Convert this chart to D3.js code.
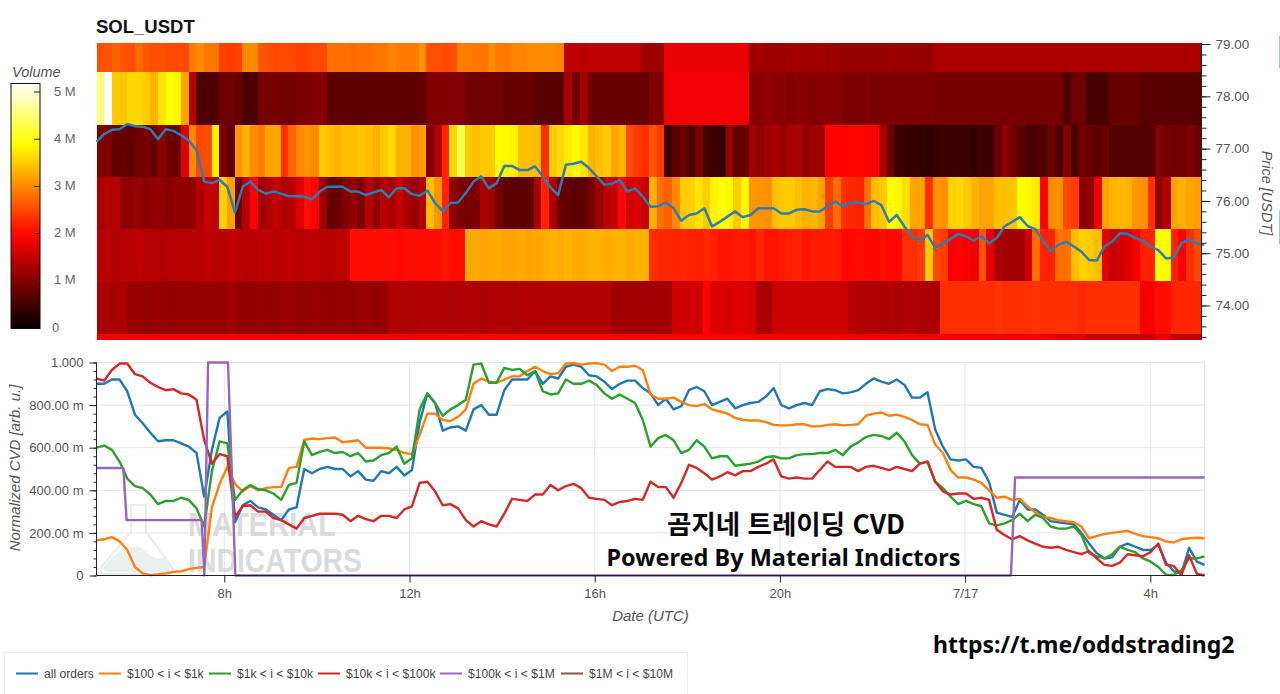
<!DOCTYPE html>
<html lang="ko">
<head>
<meta charset="utf-8">
<title>SOL_USDT CVD</title>
<script src="https://cdn.jsdelivr.net/npm/d3@7/dist/d3.min.js"></script>
<style>
  html, body { margin: 0; padding: 0; background: #fff; }
  svg { display: block; font-family: "Liberation Sans", Arial, sans-serif; }
  .axis text { fill: #555; font-size: 13px; font-family: "Liberation Sans", Arial, sans-serif; }
  .axis path, .axis line { stroke: #222; }
</style>
</head>
<body>
<svg id="chart" width="1280" height="694"></svg>
<script>
// Price bins of the volume heatmap, top edge to bottom edge (USDT)
const priceEdges = [79.02, 78.46, 77.46, 76.46, 75.46, 74.46, 73.46, 73.35];

// Traded volume per 10-minute column, in millions, one array per price bin (top to bottom)
const volumeBin0 = [
  2.55,2.6,2.7,2.6,2.55,2.75,2.6,2.55,2.55,2.5,2.5,2.5,
  2.9,3.0,2.85,2.85,2.45,2.4,2.45,3.0,3.0,2.6,2.55,2.5,
  2.5,2.5,2.45,2.45,2.5,2.5,2.8,2.8,2.8,2.75,2.8,2.8,
  2.85,2.85,2.95,2.9,2.9,2.9,3.05,2.55,2.55,2.5,2.55,2.9,
  2.9,2.85,2.85,3.0,2.9,2.85,2.95,2.95,3.0,3.0,3.0,3.0,
  2.95,1.45,1.45,1.4,1.45,1.45,1.45,1.45,1.45,1.45,1.45,1.2,
  1.2,1.2,1.8,1.8,1.8,1.8,1.8,1.8,1.8,1.8,1.8,1.8,
  1.8,1.2,1.25,1.2,1.2,1.2,1.25,1.25,1.2,1.2,1.25,1.2,
  1.2,1.15,1.15,1.15,1.15,1.15,1.15,1.2,1.15,1.15,1.15,1.15,
  1.15,1.3,1.3,1.3,1.3,1.3,1.3,1.3,1.3,1.3,1.3,1.3,
  1.3,1.3,1.3,1.3,1.3,1.3,1.3,1.3,1.3,1.3,1.3,1.3,
  1.3,1.3,1.3,1.3,1.3,1.3,1.3,1.3,1.3,1.3,1.3,1.3];
const volumeBin1 = [
  4.5,5.2,3.5,3.45,3.6,3.6,3.5,3.3,3.7,3.9,3.85,3.2,
  1.35,.6,.6,.6,.85,.85,.8,.55,.55,.9,.9,.9,
  .88,.88,.95,.95,1.0,1.0,.72,.72,.72,.7,.72,.72,
  .72,.72,.72,.72,.7,.72,.75,1.0,1.0,1.0,1.0,1.0,
  .86,.86,.86,.86,.86,.78,.78,.78,.78,.68,.68,.68,
  .68,1.25,.86,1.25,.8,.8,.8,.8,.8,.8,.8,.8,
  .98,.98,1.85,1.85,1.85,1.85,1.85,1.85,1.85,1.85,1.85,1.85,
  1.85,1.05,1.05,1.1,1.05,1.05,1.0,1.05,1.05,1.0,1.05,1.05,
  1.05,.95,.95,.95,1.0,.95,.95,.95,.95,.95,.95,.95,
  .95,.9,.9,.9,.9,.9,.9,.9,.9,.9,.9,.9,
  .9,.9,.9,.9,.9,.9,.6,.85,.85,.55,.55,.55,
  .8,.8,.8,.8,.68,.68,.68,.68,.68,.68,.68,.68];
const volumeBin2 = [
  .98,.95,.75,.8,.75,.85,.9,.8,1.05,.85,.8,1.7,
  3.0,2.5,2.55,3.8,.95,.7,3.1,3.3,3.0,2.9,3.2,3.2,
  2.3,2.7,3.0,3.05,3.0,3.5,3.4,3.3,3.4,3.4,3.45,3.4,
  3.3,3.5,3.6,3.3,3.3,3.05,3.15,.98,1.35,2.2,3.6,4.3,
  3.5,3.4,3.5,3.5,3.9,3.85,3.8,3.4,3.4,3.4,2.3,3.5,
  3.6,3.75,3.85,3.7,3.3,3.4,3.5,3.2,3.35,2.5,2.4,2.3,
  2.6,2.4,.45,.7,.8,.6,.9,.55,.5,.4,1.2,.75,
  .8,1.25,1.1,1.2,1.3,1.15,1.3,1.3,1.15,1.2,1.2,1.95,
  1.95,1.95,2.0,2.0,1.95,1.95,1.3,.8,.5,.42,.4,.4,
  .35,.42,.5,.45,.45,.45,.42,.5,.45,.8,1.1,.85,
  .7,.55,.6,.6,.85,.6,1.0,.55,.9,.8,.72,.8,
  .65,.65,.65,.65,.65,.65,1.0,.9,.85,.85,.95,.85];
const volumeBin3 = [
  1.3,1.35,1.4,1.1,1.1,1.15,1.05,1.1,1.1,1.05,1.1,1.1,
  1.1,1.35,1.5,1.45,3.55,3.2,.85,1.4,1.95,1.2,1.35,1.5,
  1.3,1.4,1.7,2.05,1.95,1.2,.75,.8,1.0,1.15,.95,1.4,
  1.1,1.4,1.3,1.5,1.3,1.15,1.4,3.4,3.1,2.2,1.1,.95,
  .9,.95,1.3,1.2,.9,.72,.72,.72,.75,1.3,2.2,1.3,
  .8,.75,.7,.75,.9,1.2,1.4,1.5,2.0,1.6,1.7,1.5,
  3.3,2.8,2.7,3.0,3.5,3.55,3.7,3.5,3.8,3.9,3.85,3.5,
  3.85,3.1,3.1,3.05,3.4,3.5,3.5,3.4,3.3,3.35,3.2,2.4,
  2.8,2.3,2.25,2.2,2.8,3.4,3.5,3.9,3.85,3.65,3.2,3.2,
  2.3,3.1,3.05,3.55,3.6,3.5,3.3,3.2,3.2,3.4,3.4,3.45,
  3.9,3.85,3.75,1.95,3.0,3.05,2.5,2.4,1.1,1.1,1.8,3.2,
  3.3,3.35,3.3,3.1,3.05,2.3,1.1,1.4,3.2,3.3,3.2,3.15];
const volumeBin4 = [
  1.4,1.4,1.35,1.4,1.4,1.45,1.4,1.4,1.35,1.4,1.4,1.4,
  1.4,1.4,1.45,1.4,1.4,1.45,1.45,1.4,1.4,1.45,1.45,1.4,
  1.45,1.45,1.4,1.45,1.45,1.4,1.4,1.45,1.45,2.05,2.05,2.05,
  2.05,2.05,2.05,2.0,2.05,2.05,2.05,2.05,2.05,2.1,2.05,2.05,
  3.25,3.25,3.2,3.25,3.25,3.2,3.2,3.25,3.2,3.2,3.25,3.3,
  3.25,3.3,3.25,3.25,3.3,3.3,3.25,3.3,3.3,3.25,3.3,3.3,
  2.3,2.25,2.25,2.2,2.25,2.2,2.2,2.25,2.2,2.1,2.1,2.15,
  2.15,2.1,2.25,2.1,2.1,2.15,2.2,2.2,2.1,2.15,2.15,2.15,
  2.15,2.0,2.0,2.05,2.0,2.0,2.05,2.0,2.0,2.3,2.3,2.4,
  3.5,2.5,2.4,1.9,1.95,1.9,1.85,2.6,1.75,1.3,1.25,1.25,
  1.25,1.6,2.8,2.2,2.2,2.8,2.8,3.4,3.55,3.5,3.4,1.75,
  1.5,1.6,1.7,1.9,2.2,2.2,3.9,3.9,2.2,1.95,2.3,2.5];
const volumeBin5 = [
  1.3,1.28,1.3,1.32,1.15,1.15,1.12,1.15,1.15,1.12,1.15,1.15,
  1.15,1.15,1.15,1.15,1.15,1.22,1.12,1.12,1.12,1.15,1.12,1.12,
  1.15,1.15,1.12,1.12,1.15,1.12,1.12,1.15,1.15,1.12,1.15,1.15,
  1.12,1.15,1.32,1.32,1.32,1.32,1.35,1.35,1.35,1.35,1.32,1.35,
  1.35,1.35,1.3,1.35,1.35,1.35,1.32,1.35,1.35,1.35,1.35,1.35,
  1.35,1.35,1.35,1.35,1.35,1.35,1.35,1.22,1.22,1.22,1.22,1.22,
  1.22,1.22,1.22,1.6,1.6,1.6,1.6,2.0,1.7,1.7,1.65,1.7,
  1.7,1.65,1.3,1.3,1.55,1.55,1.55,1.55,1.55,1.55,1.55,1.55,
  1.55,1.55,1.4,1.35,1.35,1.35,1.3,1.35,1.3,1.35,1.35,1.3,
  1.3,1.3,2.3,2.3,2.3,2.3,2.3,2.3,2.3,2.35,2.3,2.3,
  2.3,2.3,2.35,2.3,2.3,2.3,2.3,2.3,2.25,2.3,2.3,2.3,
  2.3,2.3,2.3,2.3,1.9,1.9,2.05,2.05,2.25,2.25,2.25,2.25];
const volumeBin6 = [
  1.85,1.85,1.85,1.85,1.85,1.85,1.85,1.85,1.85,1.85,1.85,1.85,
  1.85,1.85,1.85,1.85,1.85,1.85,1.85,1.85,1.85,1.85,1.85,1.85,
  1.85,1.85,1.85,1.85,1.85,1.85,1.85,1.85,1.85,1.85,1.85,1.85,
  1.85,1.85,1.85,1.85,1.85,1.9,1.9,1.9,1.9,1.9,1.9,1.9,
  1.9,1.9,1.95,1.95,1.95,1.95,1.95,1.95,1.95,1.95,1.95,1.95,
  1.95,1.95,1.95,1.95,1.95,1.95,1.95,1.95,1.95,1.95,1.95,1.95,
  1.95,1.95,1.95,1.95,1.95,1.95,1.95,1.95,1.95,1.95,1.95,1.95,
  1.9,1.9,1.9,1.9,1.9,1.9,1.9,1.9,1.9,1.9,1.9,1.9,
  1.9,1.85,1.85,1.85,1.85,1.85,1.85,1.85,1.85,1.85,1.85,1.85,
  1.85,1.85,1.85,1.85,1.85,1.85,1.85,1.85,1.85,1.85,1.85,1.85,
  1.85,1.85,1.85,1.85,1.85,1.7,1.7,1.7,1.7,1.5,1.5,1.5,
  1.5,1.5,1.5,1.5,1.5,1.5,1.8,1.8,1.45,1.45,1.45,1.45];
const volumeBins = [volumeBin0, volumeBin1, volumeBin2, volumeBin3, volumeBin4, volumeBin5, volumeBin6];

// Close price on the shared sample grid (USDT)
const closePrice = [
  77.13,77.28,77.36,77.37,77.47,77.43,77.42,77.37,77.18,77.37,77.34,77.26,
  77.15,76.97,76.37,76.34,76.4,76.27,75.78,76.27,76.37,76.21,76.14,76.18,
  76.14,76.09,76.09,76.08,76.03,76.18,76.27,76.27,76.27,76.18,76.18,76.11,
  76.16,76.21,76.07,76.24,76.24,76.13,76.1,76.2,75.96,75.8,75.96,75.97,
  76.15,76.37,76.47,76.24,76.34,76.67,76.67,76.59,76.59,76.66,76.47,76.26,
  76.11,76.69,76.71,76.75,76.63,76.47,76.31,76.33,76.4,76.18,76.24,76.08,
  75.89,75.9,75.97,75.86,75.62,75.73,75.76,75.86,75.51,75.6,75.7,75.8,
  75.69,75.73,75.86,75.86,75.86,75.76,75.76,75.83,75.84,75.8,75.8,75.89,
  75.99,75.9,75.96,75.97,75.94,76.0,75.92,75.6,75.73,75.51,75.32,75.24,
  75.35,75.1,75.19,75.27,75.37,75.32,75.24,75.33,75.19,75.29,75.51,75.6,
  75.69,75.52,75.46,75.24,75.04,75.16,75.22,75.13,75.03,74.87,74.86,75.13,
  75.22,75.38,75.37,75.29,75.24,75.13,75.06,74.9,74.92,75.19,75.27,75.19,75.16];

// Normalized cumulative volume delta per order size, on the shared sample grid
const cvdAllOrders = [
  .9,.9,.92,.92,.865,.755,.715,.67,.63,.635,.635,.62,
  .605,.575,.37,.59,.74,.77,.25,.33,.35,.32,.31,.285,
  .26,.31,.32,.5,.48,.5,.51,.5,.5,.465,.49,.45,
  .445,.49,.48,.51,.47,.495,.72,.855,.81,.68,.695,.7,
  .68,.78,.8,.755,.755,.87,.92,.92,.92,.96,.9,.935,
  .925,.98,.99,.98,.94,.935,.91,.875,.9,.915,.915,.88,
  .855,.8,.83,.78,.795,.87,.885,.865,.8,.815,.83,.785,
  .8,.81,.815,.84,.88,.8,.785,.8,.81,.8,.865,.875,
  .87,.855,.86,.87,.9,.925,.91,.9,.92,.895,.835,.835,
  .86,.685,.605,.545,.54,.545,.51,.505,.44,.295,.285,.275,
  .355,.31,.31,.285,.255,.25,.245,.24,.2,.15,.105,.08,
  .085,.135,.15,.135,.12,.12,.145,.06,.02,.01,.13,.065,.05];
const cvdFrom100 = [
  .165,.17,.18,.16,.12,.04,.01,.002,.005,.01,.017,.02,
  .03,.036,.04,.32,.43,.51,.43,.395,.42,.4,.41,.415,
  .415,.505,.51,.637,.643,.64,.645,.648,.625,.63,.635,.6,
  .6,.6,.596,.59,.575,.57,.66,.76,.76,.73,.725,.745,
  .78,.9,.925,.91,.905,.92,.935,.935,.96,.98,.96,.945,
  .95,.995,.997,.99,.995,.997,.99,.96,.98,.98,.985,.965,
  .85,.83,.83,.835,.815,.8,.795,.805,.78,.77,.76,.74,
  .73,.728,.728,.72,.707,.705,.705,.71,.71,.7,.7,.707,
  .71,.705,.707,.71,.75,.76,.765,.75,.755,.745,.73,.71,
  .707,.615,.575,.495,.46,.46,.45,.435,.4,.365,.37,.355,
  .36,.325,.295,.275,.27,.26,.255,.25,.23,.175,.185,.195,
  .2,.205,.21,.195,.185,.18,.175,.16,.155,.17,.175,.177,.175];
const cvdFrom1k = [
  .6,.61,.59,.535,.455,.42,.41,.38,.335,.35,.35,.365,
  .355,.315,.23,.49,.63,.62,.355,.4,.425,.405,.4,.385,
  .355,.425,.435,.63,.565,.58,.59,.575,.58,.56,.575,.535,
  .54,.565,.575,.605,.525,.55,.78,.855,.81,.75,.78,.8,
  .825,.99,.995,.905,.905,.975,.965,.97,.94,.96,.865,.85,
  .855,.92,.9,.9,.915,.895,.855,.83,.85,.83,.81,.73,
  .605,.645,.66,.635,.575,.59,.635,.605,.55,.56,.56,.515,
  .52,.525,.535,.555,.56,.55,.55,.565,.57,.57,.575,.575,
  .59,.565,.605,.625,.65,.66,.655,.64,.67,.63,.565,.525,
  .535,.44,.41,.37,.335,.35,.335,.325,.245,.235,.245,.26,
  .29,.255,.285,.27,.23,.22,.22,.23,.19,.105,.09,.08,
  .1,.135,.12,.11,.08,.065,.04,.003,.002,.025,.08,.08,.09];
const cvdFrom10k = [
  .925,.915,.965,.995,.995,.945,.935,.905,.885,.87,.875,.855,
  .85,.825,.635,.525,.57,.56,.275,.325,.33,.3,.3,.27,
  .26,.24,.22,.27,.28,.29,.29,.29,.285,.255,.28,.265,
  .255,.28,.28,.27,.31,.325,.435,.44,.395,.33,.335,.315,
  .26,.23,.255,.24,.23,.29,.36,.355,.35,.38,.38,.425,
  .4,.42,.43,.41,.365,.36,.355,.33,.345,.35,.36,.355,
  .44,.415,.415,.365,.435,.52,.505,.48,.45,.465,.485,.47,
  .49,.49,.51,.525,.545,.465,.455,.46,.455,.455,.495,.535,
  .51,.51,.51,.49,.51,.515,.505,.495,.51,.5,.49,.525,
  .535,.44,.395,.38,.385,.385,.36,.365,.355,.215,.19,.17,
  .185,.165,.15,.135,.13,.135,.12,.11,.1,.115,.08,.05,
  .045,.06,.1,.095,.09,.11,.15,.05,.045,.003,.095,.008,0];

// The $100k to $1M series holds flat levels between jumps, so it keeps its own times
const cvdFrom100kHours = [5.24,5.82,5.89,7.51,7.57,7.65,8.08,8.24,24.99,25.08,29.17];
const cvdFrom100kValues = [.505,.505,.26,.26,0,1,1,0,0,.46,.46];
// No order of $1M or more is plotted in this window
const cvdFrom1M = [];

const seriesNames = ["all orders", "$100 < i < $1k", "$1k < i < $10k", "$10k < i < $100k", "$100k < i < $1M", "$1M < i < $10M"];
const seriesColors = ["#1f77b4", "#ff7f0e", "#2ca02c", "#d62728", "#9467bd", "#8c564b"];

const cvdTicks = [0, .2, .4, .6, .8, 1];
const cvdTickLabels = ["0", "200.00 m", "400.00 m", "600.00 m", "800.00 m", "1.000"];
const hourTicks = [8, 12, 16, 20, 24, 28];
const hourTickLabels = ["8h", "12h", "16h", "20h", "7/17", "4h"];
const priceTicks = [74, 75, 76, 77, 78, 79];
const volumeTicks = [0, 1, 2, 3, 4, 5];
const legendLineStarts = [16, 99, 209, 318, 440, 561];

const svg = d3.select("#chart");

// Time runs from 05:14 on the 16th; hour 24 is midnight of the 17th
const x = d3.scaleLinear().domain([5.24, 29.17]).range([96.5, 1204.5]);
const sampleHours = d3.range(145).map(i => 5.24 + i * (29.17 - 5.24) / 144);
const columnX = d3.scaleBand().domain(d3.range(144)).range([x(5.24), x(29.1)]);

const yPrice = d3.scaleLinear().domain([73.35, 79.02]).range([339.5, 43]);
const yCvd = d3.scaleLinear().domain([0, 1]).range([575.5, 362.5]);
const yVolume = d3.scaleLinear().domain([0, 5.17]).range([327.5, 83.5]);

// Black through red and yellow to white
const heat = d3.scaleLinear()
  .domain([0, 1.95, 3.9, 5.2])
  .range(["#000000", "#ff0000", "#ffff00", "#ffffff"])
  .clamp(true);

// Volume heatmap
const heatmap = svg.append("g").attr("shape-rendering", "crispEdges");
volumeBins.forEach((bin, row) => {
  heatmap.append("g").selectAll("rect").data(bin).join("rect")
    .attr("x", (d, i) => columnX(i))
    .attr("width", columnX.bandwidth() + 0.5)
    .attr("y", yPrice(priceEdges[row]))
    .attr("height", yPrice(priceEdges[row + 1]) - yPrice(priceEdges[row]))
    .attr("fill", d => heat(d));
});

// Close price over the heatmap
svg.append("path")
  .datum(closePrice)
  .attr("fill", "none")
  .attr("stroke", "#2f7cb0")
  .attr("stroke-width", 2.5)
  .attr("stroke-linejoin", "round")
  .attr("d", d3.line().x((d, i) => x(sampleHours[i])).y(d => yPrice(d)));

// Price axis on the right, with five minor divisions per unit
svg.append("g").attr("class", "axis").attr("transform", "translate(1201.5,0)")
  .call(d3.axisRight(yPrice).tickValues(d3.range(73.4, 79.01, 0.2)).tickSize(5).tickFormat(""))
  .call(g => g.select(".domain").attr("d", "M0,43V339.5"));
svg.append("g").attr("class", "axis axis-price").attr("transform", "translate(1201.5,0)")
  .call(d3.axisRight(yPrice).tickValues(priceTicks).tickSize(9).tickPadding(5).tickFormat(d3.format(".2f")))
  .call(g => g.select(".domain").remove())
  .call(g => g.selectAll("text").style("font-size", "13.5px"));

svg.append("text")
  .attr("transform", "translate(1262,193) rotate(90)")
  .attr("text-anchor", "middle")
  .attr("font-size", 14.5).attr("font-style", "italic").attr("fill", "#555")
  .text("Price [USDT]");

svg.append("text")
  .attr("x", 96).attr("y", 33)
  .attr("font-size", 18.5).attr("font-weight", "bold").attr("fill", "#111")
  .text("SOL_USDT");

// Colour bar
const gradient = svg.append("defs").append("linearGradient")
  .attr("id", "volumeRamp").attr("x1", 0).attr("x2", 0).attr("y1", 1).attr("y2", 0);
d3.range(0, 1.0001, 0.05).forEach(f => {
  gradient.append("stop").attr("offset", f).attr("stop-color", heat(f * 5.17));
});
svg.append("rect")
  .attr("x", 11).attr("y", yVolume(5.17))
  .attr("width", 29).attr("height", yVolume(0) - yVolume(5.17) + 1)
  .attr("fill", "url(#volumeRamp)").attr("stroke", "#111").attr("stroke-width", 1);
svg.append("g").attr("class", "axis").attr("transform", "translate(40,0)")
  .call(d3.axisLeft(yVolume).tickValues(volumeTicks.slice(1)).tickSize(6).tickFormat(""))
  .call(g => g.select(".domain").remove());
svg.selectAll(".volumeLabel").data(volumeTicks).join("text")
  .attr("class", "volumeLabel")
  .attr("x", d => d === 0 ? 52 : 54)
  .attr("y", d => yVolume(d) + 4)
  .attr("font-size", 13).attr("fill", "#666")
  .text(d => d === 0 ? "0" : d + " M");
svg.append("text")
  .attr("x", 12).attr("y", 77)
  .attr("font-size", 14.5).attr("font-style", "italic").attr("fill", "#555")
  .text("Volume");

// Grid of the CVD panel
const grid = svg.append("g").attr("stroke", "#e6e6ea").attr("stroke-width", 1);
grid.selectAll(".h").data(cvdTicks).join("line").attr("class", "h")
  .attr("x1", x.range()[0]).attr("x2", x.range()[1])
  .attr("y1", d => yCvd(d)).attr("y2", d => yCvd(d));
grid.selectAll(".v").data(hourTicks).join("line").attr("class", "v")
  .attr("x1", d => x(d)).attr("x2", d => x(d))
  .attr("y1", yCvd.range()[1]).attr("y2", yCvd.range()[0]);
grid.append("line")
  .attr("x1", x.range()[1]).attr("x2", x.range()[1])
  .attr("y1", yCvd.range()[1]).attr("y2", yCvd.range()[0]);

// Faint maker's mark behind the CVD lines
const mark = svg.append("g").attr("opacity", 0.75);
mark.append("path")
  .attr("d", "M131,505V532L102,566Q98,574 106,574H168Q176,574 171,566L146,532V505Z")
  .attr("fill", "none").attr("stroke", "#e6e6e6").attr("stroke-width", 2);
mark.append("path")
  .attr("d", "M113,556Q136,540 146,552Q156,562 166,556L170,568Q170,572 164,572H108Q102,572 104,566Z")
  .attr("fill", "#e3ecec");
mark.append("text")
  .attr("x", 188).attr("y", 536)
  .attr("font-size", 33).attr("font-weight", "bold").attr("fill", "#d0d0d0")
  .attr("textLength", 148).attr("lengthAdjust", "spacingAndGlyphs")
  .text("MATERIAL");
mark.append("text")
  .attr("x", 188).attr("y", 572)
  .attr("font-size", 33).attr("font-weight", "bold").attr("fill", "#d0d0d0")
  .attr("textLength", 174).attr("lengthAdjust", "spacingAndGlyphs")
  .text("INDICATORS");

// CVD lines
const cvdLine = d3.line().x((d, i) => x(sampleHours[i])).y(d => yCvd(d));
[cvdAllOrders, cvdFrom100, cvdFrom1k, cvdFrom10k].forEach((series, k) => {
  svg.append("path").datum(series)
    .attr("fill", "none").attr("stroke", seriesColors[k])
    .attr("stroke-width", 2.4).attr("stroke-linejoin", "round")
    .attr("d", cvdLine);
});
svg.append("path").datum(cvdFrom100kValues)
  .attr("fill", "none").attr("stroke", seriesColors[4])
  .attr("stroke-width", 2.4).attr("stroke-linejoin", "round")
  .attr("d", d3.line().x((d, i) => x(cvdFrom100kHours[i])).y(d => yCvd(d)));
svg.append("path").datum(cvdFrom1M)
  .attr("fill", "none").attr("stroke", seriesColors[5]).attr("stroke-width", 2)
  .attr("d", cvdLine);

// CVD axes
svg.append("g").attr("class", "axis").attr("transform", "translate(96.5,0)")
  .call(d3.axisLeft(yCvd).tickValues(d3.range(0, 1.0001, 0.04)).tickSize(3).tickFormat(""))
  .call(g => g.select(".domain").attr("d", "M0,362.5V575.5"));
svg.append("g").attr("class", "axis").attr("transform", "translate(96.5,0)")
  .call(d3.axisLeft(yCvd).tickValues(cvdTicks).tickSize(7).tickPadding(6)
    .tickFormat((d, i) => cvdTickLabels[i]))
  .call(g => g.select(".domain").remove());
svg.append("g").attr("class", "axis").attr("transform", "translate(0,575.5)")
  .call(d3.axisBottom(x).tickValues(hourTicks).tickSize(7).tickPadding(6)
    .tickFormat((d, i) => hourTickLabels[i]))
  .call(g => g.select(".domain").attr("d", "M96.5,0H1204.5"));

svg.append("text")
  .attr("transform", "translate(20,468) rotate(-90)")
  .attr("text-anchor", "middle")
  .attr("font-size", 15).attr("font-style", "italic").attr("fill", "#555")
  .text("Normalized CVD [arb. u.]");
svg.append("text")
  .attr("x", 650.5).attr("y", 621)
  .attr("text-anchor", "middle")
  .attr("font-size", 15).attr("font-style", "italic").attr("fill", "#555")
  .text("Date (UTC)");

// Caption over the CVD panel
svg.append("text")
  .attr("x", 786).attr("y", 534)
  .attr("text-anchor", "middle")
  .attr("font-family", "'Noto Sans CJK KR', 'Noto Sans', sans-serif")
  .attr("font-size", 26.5).attr("font-weight", "bold").attr("fill", "#0a0a0a")
  .text("곰지네 트레이딩 CVD");
svg.append("text")
  .attr("x", 783.5).attr("y", 566)
  .attr("text-anchor", "middle")
  .attr("font-family", "'Noto Sans', sans-serif")
  .attr("font-size", 23.5).attr("font-weight", "bold").attr("fill", "#0a0a0a")
  .text("Powered By Material Indictors");
svg.append("text")
  .attr("x", 933).attr("y", 653)
  .attr("font-family", "'Noto Sans', sans-serif")
  .attr("font-size", 23).attr("font-weight", "bold").attr("fill", "#0a0a0a")
  .text("https://t.me/oddstrading2");

// Legend
svg.append("rect")
  .attr("x", 4.5).attr("y", 652.5).attr("width", 683).attr("height", 45)
  .attr("fill", "#fff").attr("stroke", "#eeeeee");
const legend = svg.selectAll(".legendItem").data(seriesNames).join("g")
  .attr("class", "legendItem")
  .attr("transform", (d, i) => `translate(${legendLineStarts[i]},673.5)`);
legend.append("line")
  .attr("x2", 22).attr("stroke", (d, i) => seriesColors[i]).attr("stroke-width", 2);
legend.append("text")
  .attr("x", 28).attr("y", 4)
  .attr("font-size", 12.1).attr("fill", "#444")
  .text(d => d);

// Edge of the neighbouring panel at the right margin
svg.selectAll(".sliver").data([[36, 68], [210, 244]]).join("line")
  .attr("class", "sliver")
  .attr("x1", 1279.5).attr("x2", 1279.5)
  .attr("y1", d => d[0]).attr("y2", d => d[1])
  .attr("stroke", "#9cc7df").attr("stroke-width", 1);
</script>
</body>
</html>
